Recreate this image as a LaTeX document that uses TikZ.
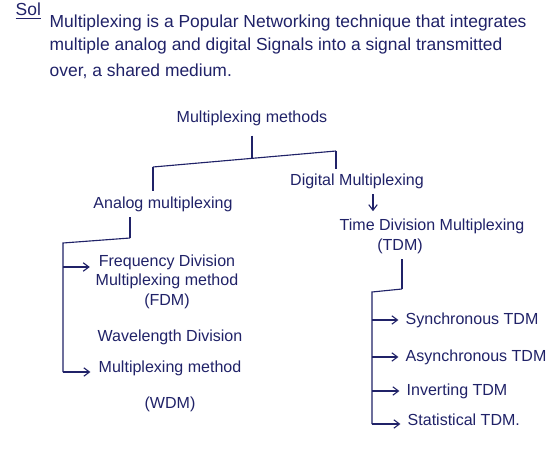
\documentclass[tikz,border=0pt]{standalone}
\usepackage{fontspec}
\setmainfont{Liberation Sans}
\usepackage{xcolor}
\definecolor{inkblue}{RGB}{32,34,104}
\usepackage{tikz}
\usetikzlibrary{arrows.meta,positioning}

\begin{document}
\begin{tikzpicture}[
  x=0.025cm,y=-0.025cm,
  txt/.style={font=\fontsize{12.4}{14}\selectfont,text=inkblue,inner sep=1pt},
  item/.style={font=\fontsize{11.4}{14}\selectfont,text=inkblue,align=center,inner sep=1pt},
  ln/.style={draw=inkblue,line width=0.8pt},
  arr/.style={draw=inkblue,line width=0.8pt,-{Straight Barb[length=4pt,width=6pt]}}
]
  \useasboundingbox[fill=white] (0,0) rectangle (560,453);

  % Answer text
  \node[txt,anchor=west] (sol) at (14,11) {\underline{Sol}};
  \node[txt,anchor=west] (par1) at (48,23) {Multiplexing is a Popular Networking technique that integrates};
  \node[txt,anchor=west] (par2) at (48,46) {multiple analog and digital Signals into a signal transmitted};
  \node[txt,anchor=west] (par3) at (48,71) {over, a shared medium.};

  % Root and first split
  \node[item] (mm) at (252,118) {Multiplexing methods};
  \coordinate (jm) at (252,159);
  \coordinate (jl) at (153,167);
  \coordinate (jr) at (336,151);
  \node[item] (dm) at (357,181) {Digital Multiplexing};
  \node[item] (am) at (163,204) {Analog multiplexing};
  \draw[ln,shorten <=6pt] (mm.south) -- (jm);
  \draw[ln] (jl) -- (jr);
  \draw[ln,shorten >=3pt] (jl) -- (jl |- am.north);
  \draw[ln,shorten >=2pt] (jr) -- (jr |- dm.north);

  % Digital branch
  \node[item] (tdm) at (432,226) {Time Division Multiplexing};
  \node[item] (tdmab) at (400,246) {(TDM)};
  \coordinate (da) at (373,0);
  \draw[arr,shorten <=3pt,shorten >=4pt] (dm.south -| da) -- (tdm.north -| da);

  % Analog branch
  \node[item,anchor=north west] (fdm) at (94,253) {Frequency Division\\Multiplexing method\\(FDM)};
  \node[item,anchor=north west] (wdm) at (96,328) {Wavelength Division\\[8pt]Multiplexing method\\[12pt](WDM)};
  \coordinate (a0) at (130,238);
  \coordinate (a1) at (63,243);
  \coordinate (fa) at (63,267);
  \coordinate (wa) at (63,372);
  \draw[ln,shorten <=3pt] (am.south -| a0) -- (a0);
  \draw[ln] (a0) -- (a1) -- (wa);
  \draw[arr,shorten >=3pt] (fa) -- (fa -| fdm.west);
  \draw[arr,shorten >=4pt] (wa) -- (wa -| wdm.west);

  % TDM types
  \node[item,anchor=west] (syn) at (404,320) {Synchronous TDM};
  \node[item,anchor=west] (asy) at (404,357) {Asynchronous TDM};
  \node[item,anchor=west] (inv) at (405,391) {Inverting TDM};
  \node[item,anchor=west] (sta) at (406,420) {Statistical TDM.};
  \coordinate (t0) at (402,289);
  \coordinate (t1) at (372,292);
  \coordinate (t2) at (372,424);
  \draw[ln,shorten <=3pt] (tdmab.south -| t0) -- (t0);
  \draw[ln] (t0) -- (t1) -- (t2);
  \draw[arr,shorten >=4pt] (t1 |- syn.west) -- (syn.west);
  \draw[arr,shorten >=4pt] (t1 |- asy.west) -- (asy.west);
  \draw[arr,shorten >=4pt] (t1 |- inv.west) -- (inv.west);
  \draw[arr,shorten >=4pt] (t2) -- (t2 -| sta.west);
\end{tikzpicture}
\end{document}
